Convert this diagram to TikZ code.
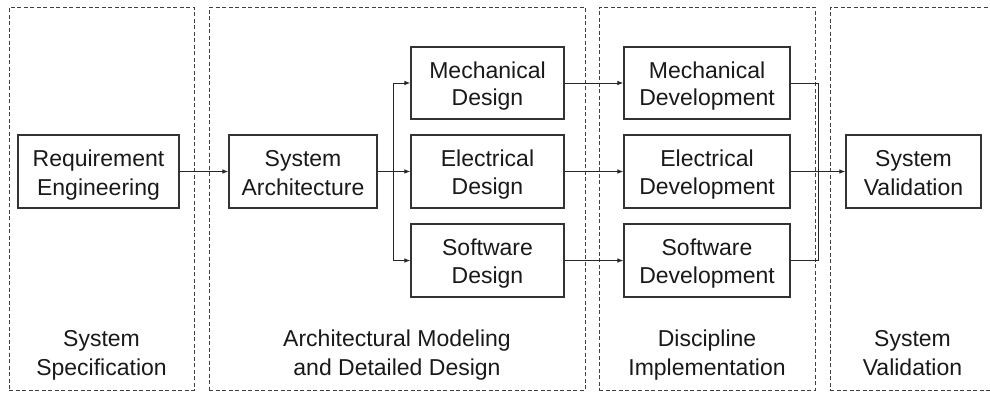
\documentclass[tikz,border=0pt]{standalone}
\usepackage{fontspec}
\setmainfont{Liberation Sans}
\usetikzlibrary{arrows.meta}
\newcommand{\ls}{\vrule width0pt height23pt depth4.5pt}
\begin{document}
\begin{tikzpicture}[x=1pt,y=-1pt,
  txt/.style={font=\fontsize{23}{27.5}\selectfont, text=black!90, align=center, inner sep=0pt},
  box/.style={txt, draw=black!80, line width=1.1pt, minimum height=73pt},
  region/.style={draw=black!75, line width=0.9pt, dash pattern=on 4pt off 2.5pt, inner sep=0pt},
  conn/.style={draw=black!85, line width=1pt},
  arr/.style={conn, -{Latex[length=6pt,width=4.5pt]}}
]
\useasboundingbox (0,0) rectangle (990,392);
\clip (0,0) rectangle (990,392);
% regions
\node[region, minimum width=185pt, minimum height=383pt] (r1) at (101.5,198.5) {};
\node[region, minimum width=376pt, minimum height=383pt] (r2) at (397,198.5) {};
\node[region, minimum width=216pt, minimum height=383pt] (r3) at (707,198.5) {};
\node[region, minimum width=170pt, minimum height=383pt] (r4) at (915,198.5) {};
% region labels
\node[txt] (l1) at (101.5,351.5) {\ls System\\\ls Specification};
\node[txt] (l2) at (397,351.5) {\ls Architectural Modeling\\\ls and Detailed Design};
\node[txt] (l3) at (707,351.5) {\ls Discipline\\\ls Implementation};
\node[txt] (l4) at (912.5,351.5) {\ls System\\\ls Validation};
% boxes
\node[box, minimum width=161pt] (re) at (98.5,171.5) {\ls Requirement\\\ls Engineering};
\node[box, minimum width=148pt] (sa) at (303,171.5) {\ls System\\\ls Architecture};
\node[box, minimum width=153pt, minimum height=72pt] (md) at (487.5,83) {\ls Mechanical\\\ls Design};
\node[box, minimum width=153pt] (ed) at (487.5,171.5) {\ls Electrical\\\ls Design};
\node[box, minimum width=153pt] (sd) at (487.5,260.5) {\ls Software\\\ls Design};
\node[box, minimum width=166pt, minimum height=72pt] (mv) at (707,83) {\ls Mechanical\\\ls Development};
\node[box, minimum width=166pt] (ev) at (707,171.5) {\ls Electrical\\\ls Development};
\node[box, minimum width=166pt] (sv) at (707,260.5) {\ls Software\\\ls Development};
\node[box, minimum width=135pt] (val) at (913.5,171.5) {\ls System\\\ls Validation};
% junctions
\coordinate (j1) at (393,171.5);
\coordinate (j2t) at (818,83);
\coordinate (j2b) at (818,260.5);
% connectors
\draw[arr] (re.east) -- (sa.west);
\draw[arr] (sa.east) -- (ed.west);
\draw[arr] (j1) |- (md.west);
\draw[arr] (j1) |- (sd.west);
\draw[arr] (md.east) -- (mv.west);
\draw[arr] (ed.east) -- (ev.west);
\draw[arr] (sd.east) -- (sv.west);
\draw[conn] (mv.east) -- (j2t) -- (j2b) -- (sv.east);
\draw[arr] (ev.east) -- (val.west);
\end{tikzpicture}
\end{document}
